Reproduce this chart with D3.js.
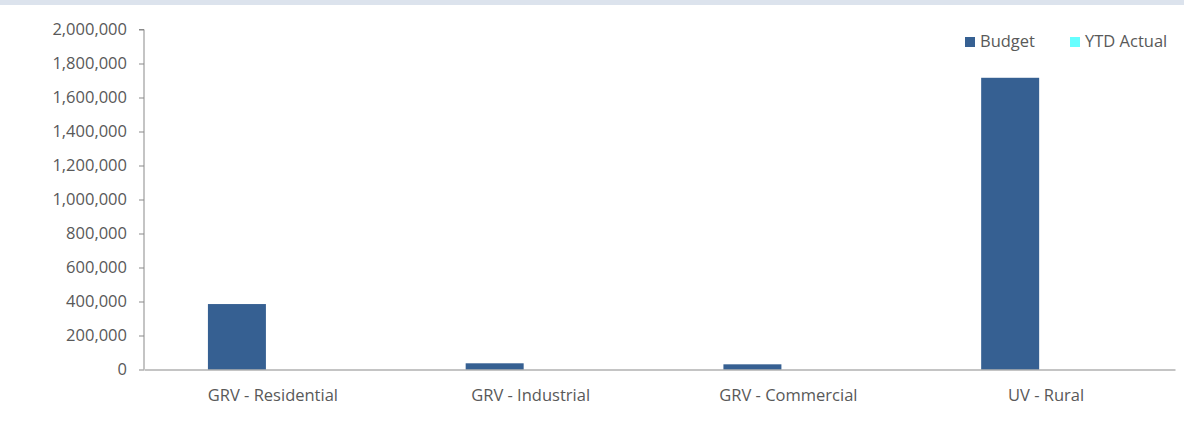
<!DOCTYPE html>
<html>
<head>
<meta charset="utf-8">
<script src="https://cdn.jsdelivr.net/npm/d3@7"></script>
<style>
  body { margin: 0; background: #fff; }
  svg { display: block; font-family: "Open Sans", sans-serif; }
</style>
</head>
<body>
<svg id="chart" width="1184" height="421"></svg>
<script>
// data
var categories = ["GRV - Residential", "GRV - Industrial", "GRV - Commercial", "UV - Rural"];
var budget = [385000, 36500, 30500, 1716000];
var ytdActual = [0, 0, 0, 0];
var seriesNames = ["Budget", "YTD Actual"];
var seriesColors = ["#366092", "#66ffff"];
var yTicks = [0, 200000, 400000, 600000, 800000, 1000000, 1200000, 1400000, 1600000, 1800000, 2000000];

var WIDTH = 1184, HEIGHT = 421;
var MARGINS = { top: 29.5, right: 9, bottom: 51.5, left: 144 };

var svg = d3.select("#chart");

// light band along the top edge
svg.append("rect")
  .attr("x", 0).attr("y", 0)
  .attr("width", WIDTH).attr("height", 5)
  .attr("fill", "#dce3ed");

var xScale = d3.scaleBand()
  .domain(categories)
  .range([MARGINS.left, WIDTH - MARGINS.right]);

var yScale = d3.scaleLinear()
  .domain([0, 2000000])
  .range([HEIGHT - MARGINS.bottom, MARGINS.top]);

// bars: two series sit side by side, a bit left of the band centre
var barW = xScale.bandwidth() * 0.225;
var barOff = xScale.bandwidth() * 0.248;

var rows = categories.map(function(c, i){
  return { cat: c, values: [budget[i], ytdActual[i]] };
});

rows.forEach(function(r){
  r.values.forEach(function(v, s){
    if(v <= 0) return;
    svg.append("rect")
      .attr("x", xScale(r.cat) + barOff + s * barW)
      .attr("y", yScale(v))
      .attr("width", barW)
      .attr("height", yScale(0) - yScale(v))
      .attr("fill", seriesColors[s]);
  });
});

// y axis
var yAxis = d3.axisLeft(yScale)
  .tickValues(yTicks)
  .tickSize(5)
  .tickPadding(12)
  .tickFormat(d3.format(","));

var gy = svg.append("g")
  .attr("transform", "translate(" + MARGINS.left + ",0)")
  .call(yAxis);
gy.select(".domain").attr("stroke", "#898989").attr("d",
  "M-5," + yScale(2000000) + "H0V" + yScale(0));
gy.selectAll(".tick line").attr("stroke", "#898989");
gy.selectAll(".tick text")
  .attr("fill", "#595959")
  .style("font-size", "16.5px")
  .style("font-family", "'Open Sans', sans-serif");

// x axis
var xAxis = d3.axisBottom(xScale).tickSize(0).tickPadding(20);
var gx = svg.append("g")
  .attr("transform", "translate(0," + yScale(0) + ")")
  .call(xAxis);
gx.select(".domain").attr("stroke", "#898989");
gx.selectAll(".tick text")
  .attr("fill", "#595959")
  .style("font-size", "16.5px")
  .style("font-family", "'Open Sans', sans-serif");

// legend
var legendX = [965, 1070];
var legend = svg.append("g");
seriesNames.forEach(function(name, i){
  legend.append("rect")
    .attr("x", legendX[i]).attr("y", 37)
    .attr("width", 10).attr("height", 10)
    .attr("fill", seriesColors[i]);
  legend.append("text")
    .attr("x", legendX[i] + 15).attr("y", 47)
    .attr("fill", "#595959")
    .style("font-size", "16.5px")
    .text(name);
});
</script>
</body>
</html>
